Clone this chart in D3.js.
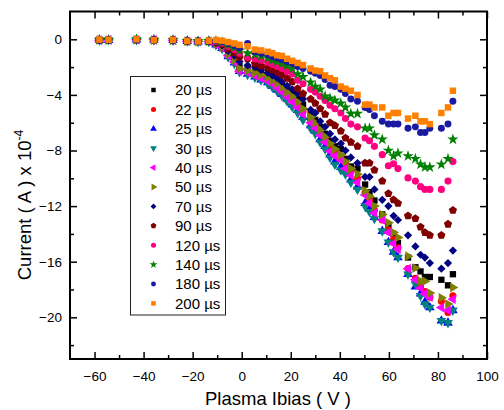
<!DOCTYPE html>
<html>
<head>
<meta charset="utf-8">
<title>Current vs Plasma Ibias</title>
<script src="https://d3js.org/d3.v7.min.js"></script>
<style>
  body { margin: 0; background: #fff; }
  svg { display: block; font-family: "Liberation Sans", Arial, sans-serif; }
  .tick text { font-size: 13.5px; fill: #000; }
  .axis-title { font-size: 18.5px; fill: #000; }
  .legend-text { font-size: 15px; fill: #000; }
</style>
</head>
<body>
<div id="chart"></div>
<script>
// bias voltage points (V), shared by all pulse widths
var biasV = [-58, -54.3, -42.9, -35.8, -28, -22.2, -17.8, -13.4,
  -10.5, -8, -5.5, -3, -0.9,
  2.4, 5.4, 7.9, 10.6, 12.5, 14.5, 16.4, 18.5, 20.6, 22.8,
  25, 28.1, 30, 32, 34, 36, 38, 40.4, 42.3, 44.5,
  47.2, 50.3, 52.1, 54.1, 57.3, 59.8, 61.9, 63.7,
  67.8, 70.8, 72.9, 74.7, 76.7, 81.4, 84.1, 86.1];

var seriesNames = ["20 µs", "22 µs", "25 µs", "30 µs", "40 µs", "50 µs",
  "70 µs", "90 µs", "120 µs", "140 µs", "180 µs", "200 µs"];

// current (A x 1e-4)
var cur20 = [-0.05,-0.05,-0.02,-0.04,-0.07,-0.12,-0.16,-0.15, -0.31,-0.53,-1.0,-1.39,-1.9,
  -2.1,-2.25,-2.4,-2.6,-2.8,-3.0,-3.3,-3.6,-3.9,-4.3, -4.7,-5.4,-5.8,-6.3,-6.8,-7.3,-7.7,-7.9,-8.6,-9.15,
  -9.3,-10.45,-11.0,-11.6,-12.6,-13.4,-14.0,-14.65, -15.7,-16.4,-16.7,-17.1,-17.1,-17.3,-17.7,-16.9];
var cur22 = [-0.05,-0.03,-0.02,-0.05,-0.07,-0.12,-0.15,-0.16, -0.35,-0.6,-1.13,-1.56,-2.2,
  -2.35,-2.5,-2.65,-2.85,-3.05,-3.3,-3.6,-3.95,-4.3,-4.7, -5.2,-5.8,-6.2,-6.7,-7.2,-7.7,-8.1,-8.5,-9.0,-9.5,
  -10.0,-11.0,-11.6,-12.3,-13.0,-13.7,-14.4,-15.0, -16.5,-17.2,-17.8,-18.15,-18.55,-18.85,-19.65,-18.45];
var cur25 = [-0.05,-0.06,-0.03,-0.05,-0.07,-0.13,-0.17,-0.16, -0.39,-0.65,-1.23,-1.69,-2.3,
  -2.5,-2.7,-2.9,-3.1,-3.35,-3.65,-3.95,-4.3,-4.7,-5.1, -5.6,-6.2,-6.6,-7.2,-7.7,-8.3,-8.8,-9.2,-9.5,-10.1,
  -10.6,-11.8,-12.2,-12.8,-13.8,-14.6,-15.3,-15.7, -16.9,-17.8,-18.3,-18.9,-19.3,-20.25,-20.4,-19.5];
var cur30 = [-0.06,-0.05,-0.04,-0.06,-0.08,-0.14,-0.18,-0.17, -0.4,-0.67,-1.27,-1.75,-2.35,
  -2.55,-2.75,-2.95,-3.2,-3.45,-3.75,-4.05,-4.45,-4.85,-5.3, -5.8,-6.4,-6.8,-7.4,-7.9,-8.5,-9.0,-9.4,-9.7,-10.3,
  -10.8,-12.0,-12.4,-12.9,-13.8,-14.6,-15.3,-15.7, -16.9,-17.6,-18.45,-19.05,-19.3,-20.25,-20.4,-19.5];
var cur40 = [-0.06,-0.04,-0.03,-0.04,-0.06,-0.14,-0.17,-0.15, -0.37,-0.62,-1.18,-1.63,-2.3,
  -2.4,-2.6,-2.8,-3.0,-3.2,-3.5,-3.8,-4.15,-4.5,-4.9, -5.4,-6.0,-6.4,-6.9,-7.4,-8.05,-8.4,-8.7,-9.3,-9.8,
  -10.3,-11.2,-11.8,-12.5,-13.0,-13.9,-14.7,-15.1, -16.5,-17.3,-17.9,-18.3,-18.55,-19.3,-19.5,-18.7];
var cur50 = [-0.04,-0.05,-0.03,-0.05,-0.06,-0.13,-0.16,-0.14, -0.34,-0.57,-1.08,-1.49,-2.1,
  -2.25,-2.4,-2.55,-2.75,-2.95,-3.15,-3.45,-3.8,-4.1,-4.5, -5.0,-5.6,-6.0,-6.5,-7.0,-7.5,-7.9,-8.3,-8.8,-9.3,
  -9.7,-10.9,-11.3,-12.0,-12.6,-13.2,-13.9,-14.25, -15.6,-16.45,-17.4,-17.4,-18.25,-18.6,-19.05,-17.85];
var cur70 = [-0.05,-0.04,-0.03,-0.03,-0.08,-0.13,-0.15,-0.14, -0.26,-0.44,-0.84,-1.17,-1.6,
  -1.87,-2.0,-2.2,-2.4,-2.6,-2.8,-3.05,-3.35,-3.6,-3.9, -4.3,-5.07,-5.3,-5.9,-6.3,-6.8,-7.2,-7.5,-8.0,-8.5,
  -8.9,-9.9,-9.9,-10.8,-11.55,-12.0,-12.7,-13.0, -14.1,-14.9,-15.5,-15.7,-16.1,-16.5,-16.1,-15.2];
var cur90 = [-0.06,-0.04,-0.02,-0.04,-0.06,-0.12,-0.13,-0.15, -0.21,-0.36,-0.68,-0.95,-1.3,
  -1.4,-1.75,-1.9,-2.05,-2.2,-2.35,-2.55,-2.8,-3.05,-3.55, -3.9,-4.3,-4.6,-5.0,-5.4,-6.0,-6.2,-6.6,-7.1,-7.4,
  -7.7,-8.9,-8.9,-9.4,-10.2,-11.1,-11.55,-11.8, -12.7,-12.9,-13.5,-13.9,-14.1,-14.1,-13.3,-12.3];
var cur120 = [-0.04,-0.03,-0.02,-0.03,-0.07,-0.1,-0.14,-0.13, -0.16,-0.27,-0.52,-0.74,-1.0,
  -1.3,-1.4,-1.5,-1.65,-1.8,-1.95,-2.1,-2.3,-2.5,-2.95, -3.2,-3.6,-3.8,-4.1,-4.4,-4.75,-5.0,-5.3,-5.7,-6.1,
  -6.3,-7.1,-7.3,-7.7,-8.3,-9.1,-8.95,-9.3, -9.97,-10.2,-10.6,-10.8,-10.8,-10.8,-10.2,-8.8];
var cur140 = [-0.03,-0.05,-0.02,-0.05,-0.06,-0.12,-0.15,-0.12, -0.12,-0.21,-0.41,-0.59,-0.8,
  -1.0,-1.1,-1.2,-1.35,-1.5,-1.6,-1.75,-1.9,-2.1,-2.5, -2.7,-3.1,-3.4,-3.6,-4.1,-4.25,-4.4,-4.6,-4.9,-5.35,
  -5.35,-6.4,-6.4,-6.9,-7.2,-8.0,-8.4,-8.2, -8.4,-8.6,-9.0,-9.2,-9.2,-9.0,-8.6,-7.2];
var cur180 = [-0.05,-0.02,-0.03,-0.02,-0.08,-0.1,-0.12,-0.12, -0.09,-0.16,-0.31,-0.45,-0.6,
  -0.3,-0.9,-1.0,-1.1,-1.25,-1.35,-1.45,-1.6,-1.75,-1.95, -2.1,-2.3,-2.45,-2.6,-2.9,-3.3,-3.4,-3.6,-3.9,-4.3,
  -4.45,-4.9,-5.05,-5.5,-5.9,-6.1,-6.1,-6.1, -6.4,-6.3,-6.7,-6.7,-6.4,-6.4,-6.1,-4.45];
var cur200 = [-0.02,-0.03,0,-0.05,-0.05,-0.12,-0.15,-0.1, -0.05,-0.1,-0.2,-0.3,-0.4,
  -0.5,-0.74,-0.8,-0.9,-1.0,-1.15,-1.2,-1.4,-1.55,-1.7, -1.85,-2.1,-2.25,-2.3,-2.6,-2.8,-2.95,-3.4,-3.55,-3.7,
  -4.0,-4.7,-4.7,-4.9,-4.9,-5.5,-5.3,-5.3, -5.7,-5.5,-5.9,-5.9,-6.1,-5.3,-4.9,-3.7];

var xMajor = [-60, -40, -20, 0, 20, 40, 60, 80, 100];
var xMinor = [-50, -30, -10, 10, 30, 50, 70, 90];
var yMajor = [0, -4, -8, -12, -16, -20];
var yMinor = [-2, -6, -10, -14, -18, -22];

var allCur = [cur20, cur22, cur25, cur30, cur40, cur50, cur70, cur90, cur120, cur140, cur180, cur200];
var colors = ["#000000", "#ff0000", "#0000ff", "#008080", "#ff00ff", "#808000",
  "#000080", "#800000", "#ff0080", "#008000", "#1a1aa0", "#ff8000"];

// pentagon symbol (d3 has none)
var symbolPentagon = {
  draw: function(context, size) {
    var r = Math.sqrt(size / 2.378);
    for (var i = 0; i < 5; i++) {
      var a = -Math.PI / 2 + i * 2 * Math.PI / 5;
      if (i === 0) context.moveTo(r * Math.cos(a), r * Math.sin(a));
      else context.lineTo(r * Math.cos(a), r * Math.sin(a));
    }
    context.closePath();
  }
};

// symbol type and rotation for each series
var shapes = [
  [d3.symbolSquare, 0], [d3.symbolCircle, 0], [d3.symbolTriangle, 0], [d3.symbolTriangle, 180],
  [d3.symbolTriangle, -90], [d3.symbolTriangle, 90], [d3.symbolSquare, 45], [symbolPentagon, 0],
  [d3.symbolCircle, 0], [d3.symbolStar, 0], [d3.symbolCircle, 0], [d3.symbolSquare, 0]
];
var plotSize = [40, 40, 40, 40, 40, 40, 34, 44, 40, 40, 38, 42];

var W = 504, H = 410;
var svg = d3.select("#chart").append("svg")
  .attr("width", W)
  .attr("height", H);

var x = d3.scaleLinear().domain([-70, 100]).range([70, 487]);
var y = d3.scaleLinear().domain([-23, 2]).range([359, 11.5]);

// data points, drawn first to last so the 200 us series sits on top
allCur.forEach(function(vals, s) {
  var sym = d3.symbol().type(shapes[s][0]).size(plotSize[s]);
  svg.append("g")
    .selectAll("path")
    .data(vals)
    .enter()
    .append("path")
    .attr("d", sym)
    .attr("transform", function(d, i) {
      return "translate(" + x(biasV[i]) + "," + y(d) + ") rotate(" + shapes[s][1] + ")";
    })
    .attr("fill", colors[s]);
});

// axes: ticks inside on all four sides
function styleAxis(g) {
  g.select(".domain").remove();
  g.selectAll(".tick line").attr("stroke", "#000").attr("stroke-width", 1.5);
}

svg.append("g")
  .attr("transform", "translate(0,359)")
  .call(d3.axisBottom(x).tickValues(xMajor).tickSize(-7).tickPadding(12).tickFormat(d3.format("d")))
  .call(styleAxis);
svg.append("g")
  .attr("transform", "translate(0,359)")
  .call(d3.axisBottom(x).tickValues(xMinor).tickSize(-4).tickFormat(""))
  .call(styleAxis);
svg.append("g")
  .attr("transform", "translate(0,11.5)")
  .call(d3.axisTop(x).tickValues(xMajor).tickSize(-7).tickFormat(""))
  .call(styleAxis);
svg.append("g")
  .attr("transform", "translate(0,11.5)")
  .call(d3.axisTop(x).tickValues(xMinor).tickSize(-4).tickFormat(""))
  .call(styleAxis);

svg.append("g")
  .attr("transform", "translate(70,0)")
  .call(d3.axisLeft(y).tickValues(yMajor).tickSize(-7).tickPadding(8).tickFormat(d3.format("d")))
  .call(styleAxis);
svg.append("g")
  .attr("transform", "translate(70,0)")
  .call(d3.axisLeft(y).tickValues(yMinor).tickSize(-4).tickFormat(""))
  .call(styleAxis);
svg.append("g")
  .attr("transform", "translate(487,0)")
  .call(d3.axisRight(y).tickValues(yMajor).tickSize(-7).tickFormat(""))
  .call(styleAxis);
svg.append("g")
  .attr("transform", "translate(487,0)")
  .call(d3.axisRight(y).tickValues(yMinor).tickSize(-4).tickFormat(""))
  .call(styleAxis);

svg.selectAll(".tick text").attr("font-family", null).attr("font-size", null).attr("fill", "#000");

// frame
svg.append("rect")
  .attr("x", 70)
  .attr("y", 11.5)
  .attr("width", 417)
  .attr("height", 347.5)
  .attr("fill", "none")
  .attr("stroke", "#000")
  .attr("stroke-width", 2);

// axis titles
svg.append("text")
  .attr("class", "axis-title")
  .attr("x", 278)
  .attr("y", 405)
  .attr("text-anchor", "middle")
  .text("Plasma Ibias ( V )");

var yt = svg.append("text")
  .attr("class", "axis-title")
  .attr("transform", "translate(31,205) rotate(-90)")
  .attr("text-anchor", "middle");
yt.append("tspan").text("Current ( A ) x 10");
yt.append("tspan").attr("dy", -8).attr("font-size", "12px").text("-4");

// legend
var legend = svg.append("g");
legend.append("rect")
  .attr("x", 130.5)
  .attr("y", 76.5)
  .attr("width", 95)
  .attr("height", 238.5)
  .attr("fill", "#fff")
  .attr("stroke", "#222")
  .attr("stroke-width", 1);

seriesNames.forEach(function(name, s) {
  var ly = 90 + s * 19.4;
  legend.append("path")
    .attr("d", d3.symbol().type(shapes[s][0]).size(plotSize[s] * 0.5))
    .attr("transform", "translate(153.5," + ly + ") rotate(" + shapes[s][1] + ")")
    .attr("fill", colors[s]);
  legend.append("text")
    .attr("class", "legend-text")
    .attr("x", 175)
    .attr("y", ly)
    .attr("dy", "0.36em")
    .text(name);
});
</script>
</body>
</html>
